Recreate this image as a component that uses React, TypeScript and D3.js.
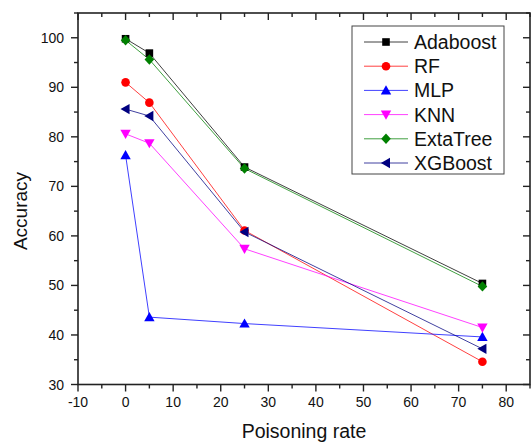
import React from "react";
import * as d3 from "d3";

const rates = [0, 5, 25, 75];
const seriesNames = ["Adaboost", "RF", "MLP", "KNN", "ExtaTree", "XGBoost"];
const adaboost = [99.8, 96.9, 73.9, 50.4];
const rf = [91.0, 86.9, 61.1, 34.6];
const mlp = [76.3, 43.6, 42.3, 39.6];
const knn = [80.6, 78.7, 57.4, 41.5];
const extaTree = [99.5, 95.6, 73.6, 49.8];
const xgboost = [85.6, 84.2, 60.8, 37.2];
const seriesValues = [adaboost, rf, mlp, knn, extaTree, xgboost];
const colors = ["#000000", "#ff0000", "#0000ff", "#ff00ff", "#008000", "#000080"];
const symbols = ["square", "circle", "triUp", "triDown", "diamond", "triLeft"];
const xTicks = [-10, 0, 10, 20, 30, 40, 50, 60, 70, 80];
const yTicks = [30, 40, 50, 60, 70, 80, 90, 100];

const W = 531, H = 443;
const L = 78, R = 530, T = 13, B = 384.5;

function Marker({ type, x, y, color }: { type: string; x: number; y: number; color: string }) {
  const s = 4.6;
  let d = "";
  if (type === "square") {
    return <rect x={x - 3.8} y={y - 3.8} width={7.6} height={7.6} fill={color} />;
  }
  if (type === "circle") {
    return <circle cx={x} cy={y} r={4.3} fill={color} />;
  }
  if (type === "triUp") d = `M${x},${y - s - 0.5}L${x + s + 0.6},${y + s - 0.6}L${x - s - 0.6},${y + s - 0.6}Z`;
  if (type === "triDown") d = `M${x},${y + s + 0.5}L${x + s + 0.6},${y - s + 0.6}L${x - s - 0.6},${y - s + 0.6}Z`;
  if (type === "triLeft") d = `M${x - s - 0.5},${y}L${x + s - 0.6},${y - s - 0.6}L${x + s - 0.6},${y + s + 0.6}Z`;
  if (type === "diamond") d = `M${x},${y - s - 0.6}L${x + s + 0.2},${y}L${x},${y + s + 0.6}L${x - s - 0.2},${y}Z`;
  return <path d={d} fill={color} />;
}

export default function App() {
  const xs = d3.scaleLinear().domain([-10, 85]).range([L, R]);
  const ys = d3.scaleLinear().domain([30, 105]).range([B, T]);
  const line = d3
    .line<[number, number]>()
    .x((d) => xs(d[0]))
    .y((d) => ys(d[1]));
  const xMinor = d3.range(-10, 86, 5);
  const yMinor = d3.range(30, 106, 5);
  const axisColor = "#222";
  const font = "'Liberation Sans', Arial, sans-serif";

  const legX = 352, legY = 26, legW = 152, legH = 148;
  const rowY = (i: number) => 42 + i * 24.2;

  return (
    <svg width={W} height={H} style={{ position: "absolute", left: 0, top: 0, background: "#fff" }} fontFamily={font}>
      <rect x={0} y={0} width={W} height={H} fill="#fff" />
      {/* series lines */}
      {seriesValues.map((vals, i) => (
        <path
          key={"l" + i}
          d={line(rates.map((r, j) => [r, vals[j]] as [number, number])) || ""}
          fill="none"
          stroke={colors[i]}
          strokeWidth={1}
          strokeOpacity={0.75}
        />
      ))}
      {seriesValues.map((vals, i) =>
        rates.map((r, j) => (
          <Marker key={"m" + i + "-" + j} type={symbols[i]} x={xs(r)} y={ys(vals[j])} color={colors[i]} />
        ))
      )}
      {/* frame */}
      <rect x={L} y={T} width={R - L} height={B - T} fill="none" stroke={axisColor} strokeWidth={1.6} />
      {/* x ticks bottom (outside) and top (inside) */}
      {xMinor.map((v) => {
        const major = v % 10 === 0;
        const len = major ? 7 : 4;
        return (
          <g key={"xt" + v}>
            <line x1={xs(v)} x2={xs(v)} y1={B} y2={B + len} stroke={axisColor} strokeWidth={1.4} />
            <line x1={xs(v)} x2={xs(v)} y1={T} y2={T + len} stroke={axisColor} strokeWidth={1.4} />
          </g>
        );
      })}
      {yMinor.map((v) => {
        const major = v % 10 === 0;
        const len = major ? 7 : 4;
        return (
          <g key={"yt" + v}>
            <line x1={L - len} x2={L} y1={ys(v)} y2={ys(v)} stroke={axisColor} strokeWidth={1.4} />
            <line x1={R - len} x2={R} y1={ys(v)} y2={ys(v)} stroke={axisColor} strokeWidth={1.4} />
          </g>
        );
      })}
      {xTicks.map((v) => (
        <text key={"xl" + v} x={xs(v)} y={407} textAnchor="middle" fontSize={14} fill="#111">
          {v}
        </text>
      ))}
      {yTicks.map((v) => (
        <text key={"yl" + v} x={64} y={ys(v) + 5} textAnchor="end" fontSize={14} fill="#111">
          {v}
        </text>
      ))}
      <text x={304} y={438} textAnchor="middle" fontSize={19.5} fill="#111">
        Poisoning rate
      </text>
      <text transform={`translate(27,211) rotate(-90)`} textAnchor="middle" fontSize={19} fill="#111">
        Accuracy
      </text>
      {/* legend */}
      <rect x={legX} y={legY} width={legW} height={legH} fill="#fff" stroke="#444" strokeWidth={1} />
      {seriesNames.map((name, i) => (
        <g key={"lg" + i}>
          <line x1={364} x2={408} y1={rowY(i)} y2={rowY(i)} stroke={colors[i]} strokeWidth={1} strokeOpacity={0.75} />
          <Marker type={symbols[i]} x={386} y={rowY(i)} color={colors[i]} />
          <text x={414} y={rowY(i) + 7} fontSize={19.5} fill="#111">
            {name}
          </text>
        </g>
      ))}
    </svg>
  );
}
